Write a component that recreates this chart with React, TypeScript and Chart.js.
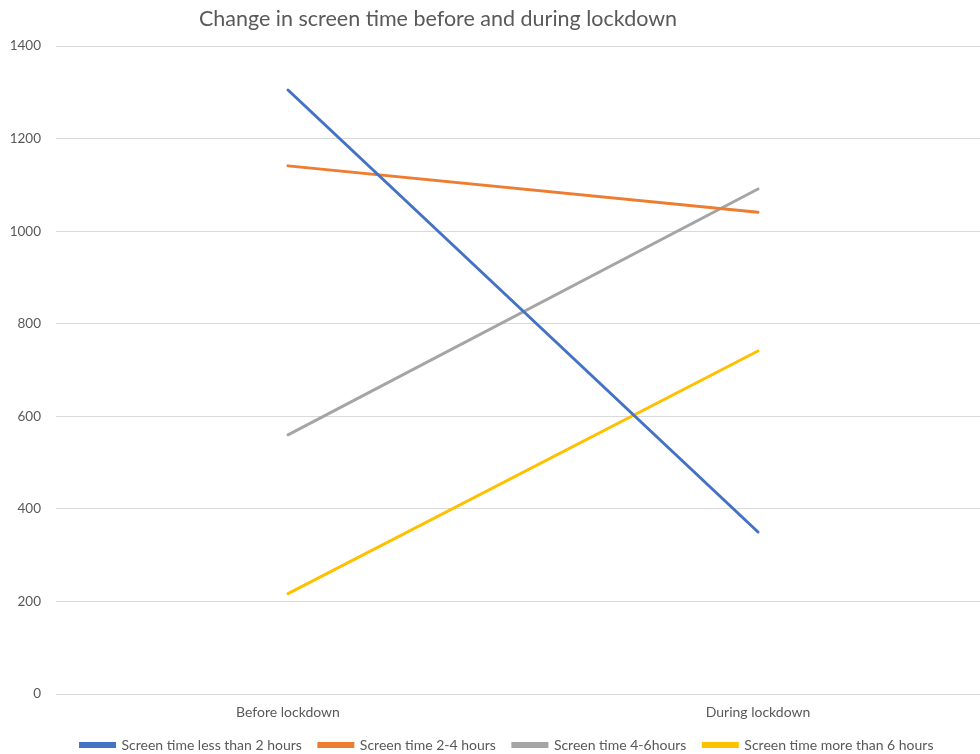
import React, { useEffect, useRef } from "react";
import { Chart, registerables } from "chart.js";

Chart.register(...registerables);

const categories = ["Before lockdown", "During lockdown"];
const seriesNames = [
  "Screen time less than 2 hours",
  "Screen time 2-4 hours",
  "Screen time 4-6hours",
  "Screen time more than 6 hours",
];
const lessThan2Hours = [1305, 350];
const twoToFourHours = [1141, 1041];
const fourToSixHours = [560, 1091];
const moreThan6Hours = [217, 741];
const seriesColors = ["#4472C4", "#ED7D31", "#A5A5A5", "#FFC000"];
const yMin = 0;
const yMax = 1400;
const yStep = 200;

const titleText = "Change in screen time before and during lockdown";
const FONT = "Lato, 'Open Sans', sans-serif";
const TEXT_COLOR = "#595959";

const titlePlugin = {
  id: "offsetTitle",
  afterDraw(chart: any) {
    const ctx = chart.ctx;
    ctx.save();
    ctx.font = `21.5px ${FONT}`;
    ctx.fillStyle = TEXT_COLOR;
    ctx.textAlign = "center";
    ctx.textBaseline = "middle";
    ctx.fillText(titleText, 438, 19);
    ctx.restore();
  },
};

export default function App() {
  const canvasRef = useRef<HTMLCanvasElement | null>(null);

  useEffect(() => {
    document.body.style.margin = "0";
    const canvas = canvasRef.current;
    if (!canvas) return;

    const allSeries = [lessThan2Hours, twoToFourHours, fourToSixHours, moreThan6Hours];
    const datasets = allSeries.map((values, s) => ({
      label: seriesNames[s],
      data: categories.map((_, i) => ({ x: i, y: values[i] })),
      borderColor: seriesColors[s],
      backgroundColor: seriesColors[s],
      borderWidth: 3,
      borderCapStyle: "round" as const,
      pointRadius: 0,
      pointHoverRadius: 0,
      tension: 0,
    }));

    const chart = new Chart(canvas, {
      type: "line",
      data: { datasets },
      plugins: [titlePlugin],
      options: {
        animation: false,
        responsive: false,
        // negative right padding moves the centred legend to the right
        layout: { padding: { top: 46, left: 0, right: -34, bottom: -8 } },
        plugins: {
          title: { display: false },
          tooltip: { enabled: false },
          legend: {
            position: "bottom",
            labels: {
              boxWidth: 34,
              boxHeight: 3,
              padding: 17,
              color: TEXT_COLOR,
              font: { family: FONT, size: 14 },
            },
          },
        },
        scales: {
          x: {
            type: "linear",
            position: "bottom",
            min: -0.4936,
            max: 1.4723,
            grid: { display: false, drawTicks: false },
            border: { display: false },
            afterFit(scale: any) {
              scale.height = 27;
            },
            ticks: {
              stepSize: 1,
              includeBounds: false,
              padding: 10,
              maxRotation: 0,
              autoSkip: false,
              color: TEXT_COLOR,
              font: { family: FONT, size: 14 },
              callback: (v: any) => {
                const i = Math.round(Number(v));
                return Math.abs(Number(v) - i) < 1e-6 && categories[i] ? categories[i] : "";
              },
            },
          },
          y: {
            min: yMin,
            max: yMax,
            grid: { color: "#D9D9D9", drawTicks: false, lineWidth: 1 },
            border: { display: false },
            afterFit(scale: any) {
              scale.width = 56;
            },
            ticks: {
              stepSize: yStep,
              padding: 15,
              color: TEXT_COLOR,
              font: { family: FONT, size: 13.5 },
              callback: (v: any) => String(v),
            },
          },
        },
      },
    });

    return () => chart.destroy();
  }, []);

  return (
    <div style={{ width: 980, height: 754, position: "relative", overflow: "hidden", background: "#fff" }}>
      <canvas ref={canvasRef} width={980} height={754} />
    </div>
  );
}
